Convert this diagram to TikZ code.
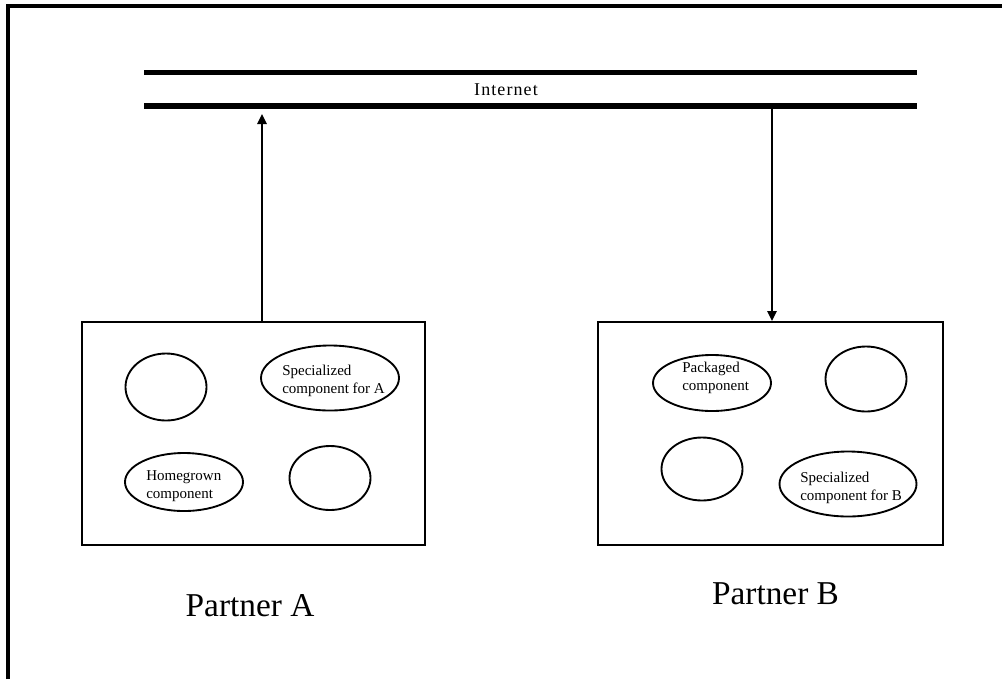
\documentclass[tikz,border=0pt]{standalone}
\usepackage{fontspec}
\setmainfont{Liberation Serif}
\newfontfamily\netfont[LetterSpace=6]{Liberation Serif}
\usetikzlibrary{shapes.geometric,arrows.meta}
\begin{document}
\begin{tikzpicture}[x=0.75pt,y=-0.75pt,
  frame/.style={line width=3pt, line join=miter},
  netline/.style={line width=4.4pt},
  partbox/.style={draw, rectangle, line width=1.4pt, inner sep=0pt, minimum height=167.25pt},
  comp/.style={draw, ellipse, line width=1.4pt, inner sep=0pt},
  comptext/.style={anchor=west, align=left, inner sep=0pt, font=\fontsize{11.25pt}{13.5pt}\selectfont},
  partner/.style={inner sep=0pt, font=\fontsize{25pt}{30pt}\selectfont},
  flow/.style={line width=1.4pt, -{Triangle[length=7.5pt,width=7pt]}}
]
\useasboundingbox (0,0) rectangle (1002,679);

% outer frame (top and left edges)
\draw[frame] (8,679) -- (8,6) -- (1005,6);

% the Internet, drawn as two thick rails
\coordinate (netTL) at (144,72.5);
\coordinate (netTR) at (917,72.5);
\coordinate (netBL) at (144,106);
\coordinate (netBR) at (917,106);
\draw[netline] (netTL) -- (netTR);
\draw[netline] (netBL) -- (netBR);
\node[inner sep=0pt, font=\netfont\fontsize{13.5pt}{16pt}\selectfont] (net) at (506,89.5) {Internet};

% partner boxes
\node[partbox, minimum width=257.25pt] (boxA) at (253.5,433.5) {};
\node[partbox, minimum width=258.75pt] (boxB) at (770.5,433.5) {};

% components of partner A
\node[comp, minimum width=60.75pt, minimum height=50.25pt] (a1) at (166,387) {};
\node[comp, minimum width=103.5pt, minimum height=48.75pt] (a2) at (330,378) {};
\node[comp, minimum width=88.5pt, minimum height=43.5pt] (a3) at (184,482) {};
\node[comp, minimum width=60.75pt, minimum height=48pt] (a4) at (330,478) {};
\node[comptext] (a2t) at (282,381) {Specialized\\component for A};
\node[comptext] (a3t) at (146,486) {Homegrown\\component};

% components of partner B
\node[comp, minimum width=88.5pt, minimum height=42pt] (b1) at (712,383) {};
\node[comp, minimum width=60.75pt, minimum height=48.75pt] (b2) at (866,379) {};
\node[comp, minimum width=60.75pt, minimum height=47.25pt] (b3) at (702,469) {};
\node[comp, minimum width=102.75pt, minimum height=48.75pt] (b4) at (848,484) {};
\node[comptext] (b1t) at (682,377.5) {Packaged\\component};
\node[comptext] (b4t) at (800,487.5) {Specialized\\component for B};

% partner captions
\node[partner] (capA) at (250,606) {Partner A};
\node[partner] (capB) at (775.5,594) {Partner B};

% traffic between the partners and the Internet
\coordinate (tipA) at (262,114);
\coordinate (srcB) at (772,106);
\draw[flow] (boxA.north -| tipA) -- (tipA);
\draw[flow] (srcB) -- (boxB.north -| srcB);
\end{tikzpicture}
\end{document}
